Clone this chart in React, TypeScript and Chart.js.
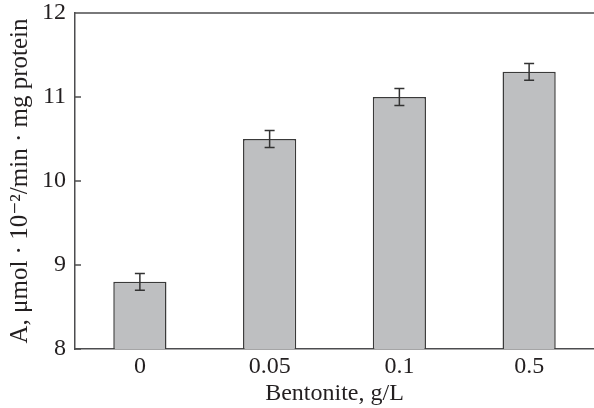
import React, { useEffect, useRef } from "react";
import { Chart, registerables } from "chart.js";

Chart.register(...registerables);

const categories = ["0", "0.05", "0.1", "0.5"];
const activity = [8.8, 10.5, 11.0, 11.3];
const errors = [0.1, 0.1, 0.1, 0.1];
const yTicks = [8, 9, 10, 11, 12];
const xTitle = "Bentonite, g/L";
const yTitle = "A, μmol · 10⁻²/min · mg protein";

const FONT = "'Liberation Serif', 'DejaVu Serif', serif";
const TEXT = "#231f20";
const LINE = "#4d4d4f";

const decorPlugin = {
  id: "decor",
  afterDatasetsDraw(chart: any) {
    const ctx = chart.ctx;
    const y = chart.scales.y;
    const meta = chart.getDatasetMeta(0);
    ctx.save();
    ctx.strokeStyle = "#333333";
    ctx.lineWidth = 1.5;
    meta.data.forEach((bar: any, i: number) => {
      const x = bar.x;
      const hi = y.getPixelForValue(activity[i] + errors[i]);
      const lo = y.getPixelForValue(activity[i] - errors[i]);
      const cap = 5;
      ctx.beginPath();
      ctx.moveTo(x, hi);
      ctx.lineTo(x, lo);
      ctx.moveTo(x - cap, hi);
      ctx.lineTo(x + cap, hi);
      ctx.moveTo(x - cap, lo);
      ctx.lineTo(x + cap, lo);
      ctx.stroke();
    });
    ctx.restore();
  },
  afterDraw(chart: any) {
    const ctx = chart.ctx;
    const { left, right, top } = chart.chartArea;
    const y = chart.scales.y;
    ctx.save();
    ctx.strokeStyle = LINE;
    ctx.lineWidth = 1.5;
    ctx.beginPath();
    ctx.moveTo(left, top);
    ctx.lineTo(right, top);
    yTicks.forEach((v) => {
      const py = y.getPixelForValue(v);
      ctx.moveTo(left, py);
      ctx.lineTo(left + 6, py);
    });
    ctx.stroke();
    ctx.restore();
  },
};

export default function App() {
  const ref = useRef<HTMLCanvasElement>(null);
  useEffect(() => {
    if (!ref.current) return;
    const chart = new Chart(ref.current, {
      type: "bar",
      data: {
        labels: categories,
        datasets: [
          {
            data: activity,
            backgroundColor: "#bebfc1",
            borderColor: "#3a3a3a",
            borderWidth: 1.5,
            barPercentage: 0.41,
            categoryPercentage: 1,
          },
        ],
      },
      options: {
        animation: false,
        responsive: false,
        maintainAspectRatio: false,
        layout: { padding: { top: 13, right: 0, left: 0, bottom: 0 } },
        plugins: { legend: { display: false }, tooltip: { enabled: false } },
        scales: {
          x: {
            grid: { display: false, drawTicks: false },
            border: { display: true, color: LINE, width: 1.5 },
            ticks: { color: TEXT, font: { family: FONT, size: 24 }, padding: 3 },
            title: {
              display: true,
              text: xTitle,
              color: TEXT,
              font: { family: FONT, size: 24 },
              padding: { top: 0, bottom: 0 },
            },
            afterFit(scale: any) {
              scale.height = 59;
              scale.paddingLeft = 0;
              scale.paddingRight = 0;
            },
          },
          y: {
            min: 8,
            max: 12,
            grid: { display: false, drawTicks: false },
            border: { display: true, color: LINE, width: 1.5 },
            ticks: {
              stepSize: 1,
              color: TEXT,
              font: { family: FONT, size: 24 },
              padding: 9,
            },
            title: {
              display: true,
              text: yTitle,
              color: TEXT,
              font: { family: FONT, size: 25 },
              padding: { top: 5, bottom: 0 },
            },
            afterFit(scale: any) {
              scale.width = 75;
              scale.paddingTop = 0;
              scale.paddingBottom = 0;
            },
          },
        },
      },
      plugins: [decorPlugin],
    });
    return () => chart.destroy();
  }, []);
  return (
    <div style={{ position: "absolute", left: 0, top: 0, width: 594, height: 408, background: "#fff" }}>
      <canvas ref={ref} width={594} height={408} style={{ width: 594, height: 408 }} />
    </div>
  );
}
